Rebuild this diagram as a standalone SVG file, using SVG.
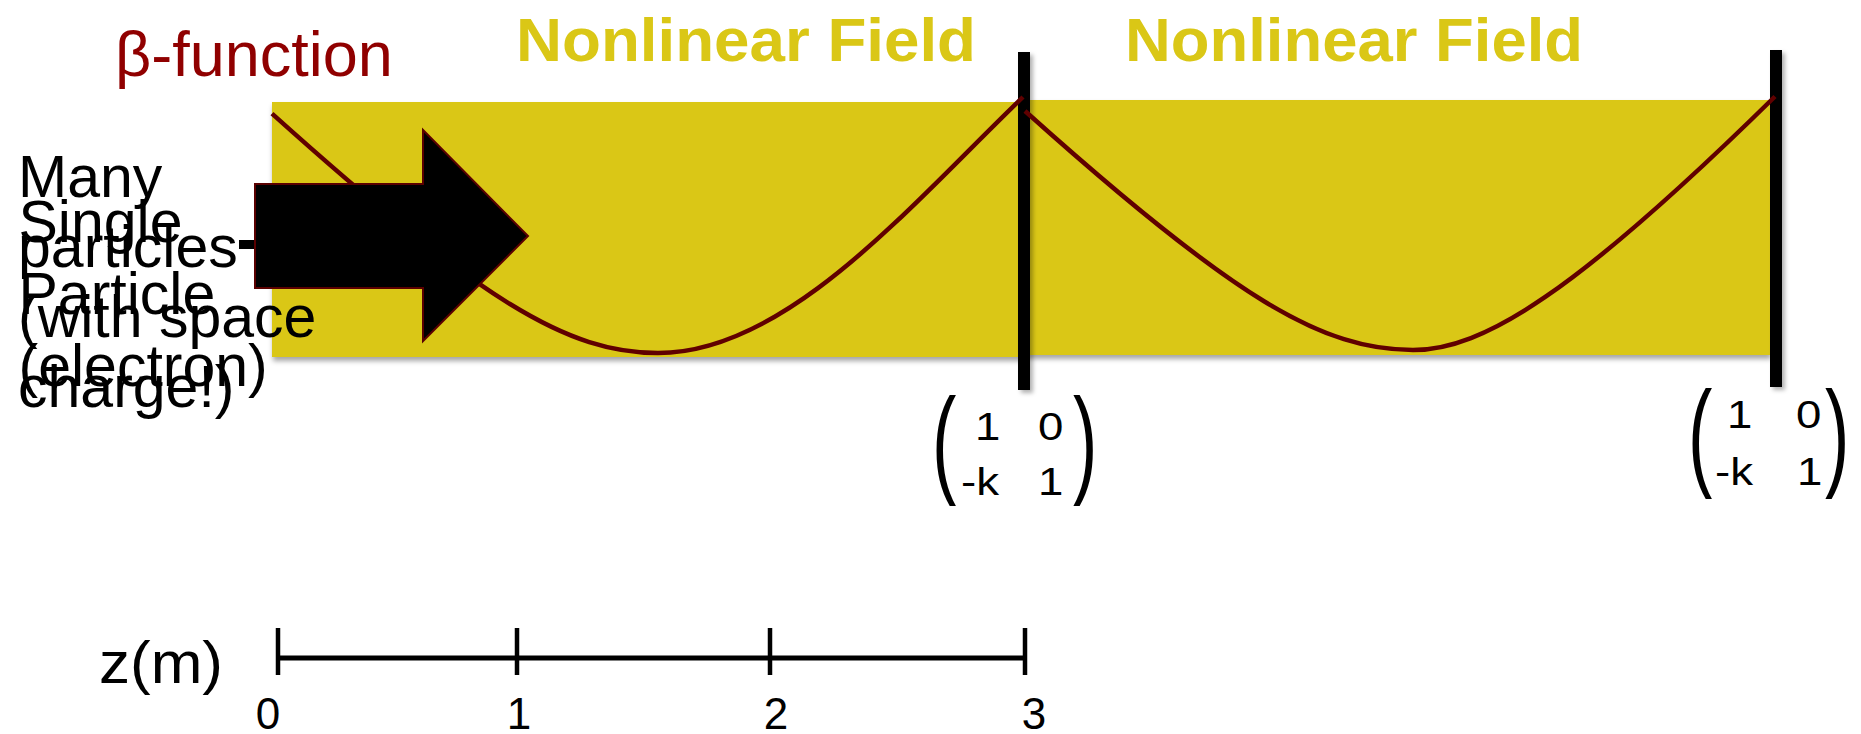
<svg xmlns="http://www.w3.org/2000/svg" width="1861" height="734" viewBox="0 0 1861 734">
  <defs>
    <filter id="shadow" x="-5%" y="-10%" width="110%" height="125%">
      <feDropShadow dx="1" dy="4" stdDeviation="2.5" flood-color="#000" flood-opacity="0.35"/>
    </filter>
    <filter id="barShadow" x="-50%" y="-5%" width="250%" height="115%">
      <feDropShadow dx="3" dy="3" stdDeviation="2" flood-color="#000" flood-opacity="0.3"/>
    </filter>
  </defs>
  <style>
    .field { fill: #DAC716; }
    .title { font-family: "Liberation Sans", Arial, sans-serif; font-weight: bold; font-size: 62px; fill: #DAC716; }
    .beta { font-family: "Liberation Sans", Arial, sans-serif; font-size: 63px; fill: #900000; }
    .lbl { font-family: "Liberation Sans", Arial, sans-serif; font-size: 59px; fill: #000; }
    .mat { font-family: "Liberation Sans", Arial, sans-serif; font-size: 38px; fill: #000; }
    .par { font-family: "Liberation Sans", Arial, sans-serif; font-size: 118px; fill: #000; }
    .axis { font-family: "Liberation Sans", Arial, sans-serif; fill: #000; }
    .bar { fill: #000; }
    .curve { fill: none; stroke: #600000; stroke-width: 4.5; stroke-linejoin: round; }
    .tick { stroke: #000; stroke-width: 4.5; }
  </style>

  <g id="field1">
    <rect class="field" x="272" y="102" width="752" height="255" filter="url(#shadow)"/>
  </g>
  <g id="field2">
    <rect class="field" x="1024" y="100" width="746" height="255" filter="url(#shadow)"/>
  </g>

  <g id="title1"><text class="title" x="516" y="61" textLength="460" lengthAdjust="spacingAndGlyphs">Nonlinear Field</text></g>
  <g id="title2"><text class="title" x="1125" y="61" textLength="458" lengthAdjust="spacingAndGlyphs">Nonlinear Field</text></g>
  <g id="beta-label"><text class="beta" x="115" y="76">β-function</text></g>

  <g id="lens1"><rect class="bar" x="1018" y="52" width="12" height="338" filter="url(#barShadow)"/></g>
  <g id="lens2"><rect class="bar" x="1770" y="50" width="12" height="337" filter="url(#barShadow)"/></g>

  <g id="connectors">
    <path class="curve" d="M272,113.6 C482,302.2 568,353 658,353 C788,353 913,202.4 1023,97"/>
    <path class="curve" d="M1025,111 C1235,299.6 1323,350 1413,350 C1483,350 1575,293.1 1775,96.5"/>
  </g>

  <g id="arrow">
    <rect x="239" y="240" width="17" height="9" fill="#000"/>
    <polygon points="255,184 423,184 423,130 528,236 423,341 423,288 255,288" fill="#000" stroke="#5a0000" stroke-width="2"/>
  </g>

  <g id="label-many">
    <text class="lbl" x="18"><tspan x="18" y="197">Many</tspan><tspan x="18" y="267">particles</tspan><tspan x="18" y="337">(with space</tspan><tspan x="18" y="407">charge!)</tspan></text>
  </g>
  <g id="label-single">
    <text class="lbl" x="18.5"><tspan x="18.5" y="242">Single</tspan><tspan x="18.5" y="314">Particle</tspan><tspan x="18.5" y="386">(electron)</tspan></text>
  </g>

  <g id="matrix1">
    <text class="par" transform="translate(932,481) scale(0.62,1)">(</text>
    <text class="mat" transform="translate(975,440) scale(1.2,1)">1</text>
    <text class="mat" transform="translate(1038,440) scale(1.2,1)">0</text>
    <text class="mat" transform="translate(961,495) scale(1.2,1)">-k</text>
    <text class="mat" transform="translate(1038,495) scale(1.2,1)">1</text>
    <text class="par" transform="translate(1073,481) scale(0.62,1)">)</text>
  </g>
  <g id="matrix2">
    <text class="par" transform="translate(1688,474) scale(0.62,1)">(</text>
    <text class="mat" transform="translate(1727,428) scale(1.2,1)">1</text>
    <text class="mat" transform="translate(1796,428) scale(1.2,1)">0</text>
    <text class="mat" transform="translate(1715,485) scale(1.2,1)">-k</text>
    <text class="mat" transform="translate(1797,485) scale(1.2,1)">1</text>
    <text class="par" transform="translate(1825,474) scale(0.62,1)">)</text>
  </g>

  <g id="axis">
    <text class="axis" x="99" y="683" font-size="60" textLength="124" lengthAdjust="spacingAndGlyphs">z(m)</text>
    <line x1="278" y1="658" x2="1025" y2="658" stroke="#000" stroke-width="5"/>
    <line class="tick" x1="278" y1="628" x2="278" y2="675"/>
    <line class="tick" x1="517" y1="628" x2="517" y2="675"/>
    <line class="tick" x1="770" y1="628" x2="770" y2="675"/>
    <line class="tick" x1="1025" y1="628" x2="1025" y2="675"/>
    <text class="axis" font-size="44" text-anchor="middle" x="268" y="729">0</text>
    <text class="axis" font-size="44" text-anchor="middle" x="519" y="729">1</text>
    <text class="axis" font-size="44" text-anchor="middle" x="776" y="729">2</text>
    <text class="axis" font-size="44" text-anchor="middle" x="1034" y="729">3</text>
  </g>
</svg>
